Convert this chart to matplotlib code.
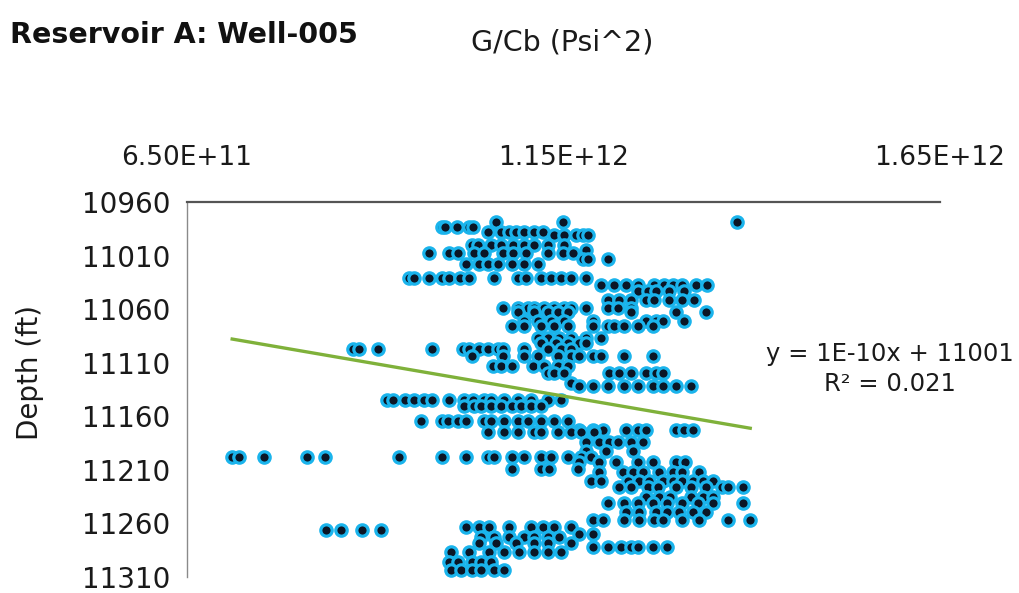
import numpy as np
import matplotlib
matplotlib.use("Agg")
import matplotlib.pyplot as plt
from matplotlib.ticker import FuncFormatter

# ---------------- data ----------------
title = "Reservoir A: Well-005"
x_label = "G/Cb (Psi^2)"
y_label = "Depth (ft)"
x_ticks = [6.5e11, 1.15e12, 1.65e12]
y_ticks = [10960, 11010, 11060, 11110, 11160, 11210, 11260, 11310]
x_scale = 1e9   # G/Cb values below are in units of 1e9 psi^2

# depth (ft) of each row of points and the G/Cb values (1e9 psi^2) found at that depth
row_depth = [10979, 10983, 10988, 10991, 11000, 11005, 11008, 11013, 11018, 11031,
             11037, 11043, 11051, 11059, 11063, 11071, 11076, 11087, 11092, 11097,
             11104, 11113, 11120, 11129, 11132, 11145, 11150, 11164, 11173, 11175,
             11184, 11192, 11198, 11203, 11209, 11212, 11220, 11226, 11235, 11241,
             11249, 11257, 11263, 11266, 11270, 11273, 11278, 11282, 11287, 11296,
             11303]
row_gcb = [
    [1061, 1149, 1380],
    [988, 992, 1008, 1024, 1030],
    [1050, 1067, 1077, 1087, 1098, 1111, 1123],
    [1137, 1151, 1167, 1176, 1183],
    [1028, 1037, 1054, 1067, 1083, 1098, 1111, 1130, 1151],
    [1180],
    [971, 998, 1010, 1031, 1045, 1070, 1083, 1100, 1130, 1149, 1163],
    [1176, 1183, 1209],
    [1021, 1038, 1050, 1063, 1081, 1098, 1116],
    [945, 952, 971, 988, 998, 1012, 1024, 1058, 1090, 1100, 1120, 1133, 1147, 1160, 1180],
    [1200, 1217, 1233, 1249, 1270, 1283, 1295, 1308, 1326, 1341],
    [1249, 1262, 1273, 1290, 1310],
    [1209, 1224, 1239, 1259, 1270, 1290, 1308, 1323],
    [1070, 1090, 1103, 1111, 1124, 1137, 1151, 1160, 1180, 1209, 1222, 1239],
    [1090, 1111, 1130, 1143, 1156, 1239, 1299, 1339],
    [1098, 1116, 1133, 1151, 1189, 1259, 1273, 1282, 1310],
    [1081, 1098, 1120, 1137, 1156, 1189, 1209, 1217, 1230, 1249, 1269],
    [1116, 1130, 1144, 1160, 1180, 1200],
    [1120, 1140, 1156, 1171, 1180],
    [871, 878, 904, 975, 1017, 1025, 1038, 1050, 1063, 1070, 1098, 1130, 1147, 1160],
    [1028, 1070, 1098, 1116, 1143, 1160, 1171, 1189, 1200, 1230, 1269],
    [1057, 1067, 1081, 1110, 1124, 1143, 1156],
    [1130, 1137, 1151, 1210, 1224, 1239, 1259, 1273, 1282],
    [1160],
    [1171, 1189, 1209, 1230, 1249, 1269, 1282, 1299, 1319],
    [915, 924, 939, 951, 965, 975, 998, 1018, 1030, 1045, 1054, 1071, 1090, 1107, 1130, 1147],
    [1018, 1031, 1041, 1054, 1067, 1081, 1094, 1107, 1120],
    [961, 988, 997, 1010, 1021, 1045, 1054, 1071, 1090, 1103, 1120, 1137, 1156],
    [1171, 1189, 1202, 1233, 1249, 1259, 1299, 1310, 1322],
    [1050, 1071, 1090, 1111, 1120, 1143, 1160, 1173, 1190],
    [1180, 1197, 1210, 1222, 1239, 1255],
    [1180, 1206, 1242],
    [710, 719, 752, 809, 833, 932, 988, 1021, 1050, 1058, 1081, 1098, 1120, 1133, 1156, 1173, 1186],
    [1171, 1197, 1220, 1249, 1269, 1299, 1312],
    [1081, 1120, 1131, 1169],
    [1197, 1229, 1242, 1255, 1277, 1295, 1308, 1330],
    [1186, 1200, 1235, 1250, 1263, 1282, 1296, 1308, 1322, 1335, 1348],
    [1224, 1239, 1262, 1275, 1299, 1319, 1339, 1361, 1369, 1389],
    [1259, 1277, 1292, 1319, 1335, 1348],
    [1209, 1230, 1249, 1269, 1288, 1308, 1328, 1348, 1389],
    [1233, 1250, 1273, 1288, 1303, 1322, 1339],
    [1189, 1202, 1230, 1250, 1270, 1282, 1308, 1330, 1368, 1398],
    [1021, 1038, 1051, 1077, 1107, 1123, 1137, 1160],
    [835, 855, 882, 908],
    [1171, 1189],
    [1041, 1058, 1078, 1098, 1111, 1130, 1144],
    [1038, 1061, 1087, 1111, 1130, 1160],
    [1189, 1209, 1226, 1239, 1249, 1269, 1288],
    [1001, 1024, 1051, 1071, 1091, 1111, 1130, 1147],
    [998, 1010, 1028, 1041, 1054],
    [1001, 1014, 1028, 1041, 1058, 1071],
]

# linear trendline reported on the chart (depth = slope * G/Cb + intercept)
trend_slope = 1.21e-10
trend_intercept = 11002
trend_text = "y = 1E-10x + 11001\nR\u00b2 = 0.021"

# ---------------- build ----------------
gcb = np.concatenate([np.array(v, float) for v in row_gcb]) * x_scale
depth = np.concatenate([np.full(len(v), d, float) for d, v in zip(row_depth, row_gcb)])

fig = plt.figure(figsize=(10.19, 5.93), dpi=100)
ax = fig.add_axes([187/1019, 1 - 577/593, (940 - 187)/1019, (577 - 202)/593])

ax.plot(gcb, depth, linestyle="none", marker="o", markersize=8.2,
        markerfacecolor="#0b1626", markeredgecolor="#1ab4ec", markeredgewidth=2.3,
        zorder=3, clip_on=False)

xt = np.array([gcb.min(), gcb.max()])
ax.plot(xt, trend_slope * xt + trend_intercept, color="#7fb13a", linewidth=2.4, zorder=4)

ax.set_xlim(6.5e11, 1.65e12)
ax.set_ylim(11310, 10960)
ax.set_xticks(x_ticks)
ax.set_yticks(y_ticks)
ax.xaxis.set_major_formatter(FuncFormatter(lambda v, p: f"{v:.2E}"))
ax.xaxis.tick_top()
ax.tick_params(axis="x", length=0, pad=22, labelsize=19, colors="#1a1a1a")
ax.tick_params(axis="y", length=0, pad=12, labelsize=20, colors="#1a1a1a")

for s in ["right", "bottom"]:
    ax.spines[s].set_visible(False)
ax.spines["top"].set_color("#555555")
ax.spines["top"].set_linewidth(1.6)
ax.spines["left"].set_color("#8a8a8a")
ax.spines["left"].set_linewidth(1.0)

fig.text(10/1019, 1 - 35/593, title, fontsize=20.5, fontweight="bold",
         ha="left", va="center", color="#111111")
fig.text(562/1019, 1 - 42/593, x_label, fontsize=20.5, ha="center", va="center",
         color="#1a1a1a")
fig.text(30/1019, 1 - 372/593, y_label, fontsize=20, rotation=90, ha="center",
         va="center", color="#1a1a1a")
fig.text(890/1019, 1 - 369/593, trend_text, fontsize=17.5, ha="center", va="center",
         color="#1a1a1a", linespacing=1.3)

fig.savefig("out.png", dpi=100)
